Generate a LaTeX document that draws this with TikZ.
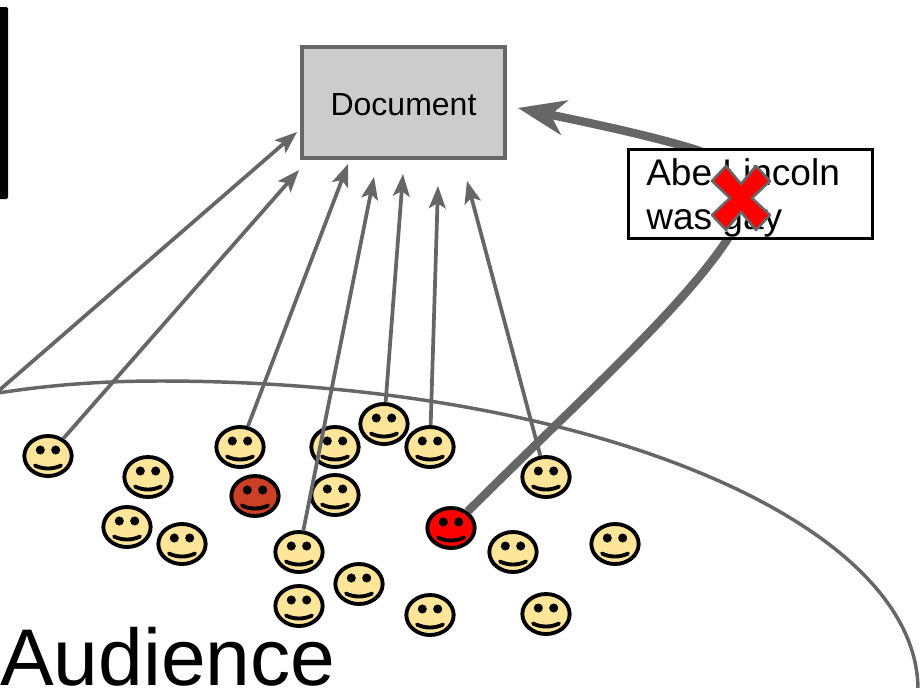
\documentclass[tikz,border=0pt]{standalone}
\usepackage{fontspec}
\setmainfont{Liberation Sans}
\usetikzlibrary{arrows.meta,shapes.geometric}
\definecolor{linegray}{HTML}{666666}
\definecolor{docgray}{HTML}{CCCCCC}
\definecolor{facetan}{HTML}{FFE599}
\definecolor{facebrown}{HTML}{CC4125}
\tikzset{
  smiley/.style={ellipse,draw=black,line width=2.9pt,fill=#1,minimum width=35.5pt,
    minimum height=30pt,inner sep=0pt,
    path picture={
      \begin{scope}[shift={(path picture bounding box.center)}]
        \fill[black] (-7.7,-6) circle (3.4pt) (7.7,-6) circle (3.4pt);
        \draw[black,line width=2.9pt,line cap=round] (-13,9.5) .. controls (-5,13.5) and (5,13.5) .. (13,9.5);
      \end{scope}}},
  smiley/.default=facetan,
  reader/.style={draw=linegray,line width=2.8pt,-{Stealth[length=17pt,width=13pt,inset=4pt,line width=0pt]}},
  speaker/.style={draw=linegray,line width=6.3pt,-{Stealth[length=36pt,width=27pt,inset=11pt,line width=0pt]}},
}
\begin{document}
\begin{tikzpicture}[x=.75pt,y=-.75pt]
\useasboundingbox (0,0) rectangle (922,687);

% Black bar and the audience outline
\fill[black,rounded corners=1pt] (-5,7) rectangle (8,199);
\draw[draw=linegray,line width=2.6pt] (-2,393) .. controls (50,385) and (100,381) .. (160,381)
  .. controls (580,381) and (918,519) .. (918,690);
\node[anchor=base west,inner sep=0pt,font=\fontsize{60.3}{61}\selectfont] (audience) at (0,685) {Audience};

% Document box
\node[draw=linegray,fill=docgray,line width=2.6pt,minimum width=152pt,minimum height=83pt,
  text height=20pt,font=\fontsize{24}{24}\selectfont] (doc) at (403.5,102.5) {Document};

% Faces
\foreach \n/\x/\y in {1/48/456,2/148/477,3/240/447,5/335/447,6/335/495,7/384/424,8/430/447,
    9/546/477,11/127/527,12/182/544,13/299/552,14/513/552,15/615/544,16/359/584,17/299/606,
    18/430/615,19/546/614}
  \node[smiley] (f\n) at (\x,\y) {};
\node[smiley=facebrown] (f4) at (255,496) {};
\node[smiley=red] (f10) at (451,528) {};

% Readers pointing at the document
\coordinate (s0) at (-12,400);
\coordinate (e0) at (297,132);
\coordinate (e1) at (299,170);
\coordinate (e3) at (348,164);
\coordinate (e13) at (374,177);
\coordinate (e7) at (403,174);
\coordinate (e8) at (438,186);
\coordinate (e9) at (467,181);
\draw[reader] (s0) -- (e0);
\draw[reader] (f1) -- (e1);
\draw[reader] (f3) -- (e3);
\draw[reader] (f13) -- (e13);
\draw[reader] (f7) -- (e7);
\draw[reader] (f8) -- (e8);
\draw[reader] (f9) -- (e9);

% Thick arrow from the red face, passing behind the claim
\coordinate (e10) at (518,108);
\draw[speaker] (f10) .. controls (590,390) and (680,310) .. (727,240)
  .. controls (765,175) and (710,153) .. (687,147)
  .. controls (650,136) and (600,125) .. (e10);

% The claim and its cross
\node[draw=black,fill=white,line width=2.5pt,minimum width=183pt,minimum height=67pt] (claim) at (750.5,194) {};
\node[anchor=north west,inner sep=0pt,align=left,font=\fontsize{27.8}{33}\selectfont] (claimtext)
  at (646,158) {Abe Lincoln\\was gay};
\draw[draw=linegray,fill=red,line width=1.9pt,line join=round,shift={(741,198)}]
  (0,-14) -- (15,-32) -- (29,-17) -- (11,0) -- (29,17) -- (15,32) -- (0,14)
  -- (-15,32) -- (-29,17) -- (-11,0) -- (-29,-17) -- (-15,-32) -- cycle;
\end{tikzpicture}
\end{document}
